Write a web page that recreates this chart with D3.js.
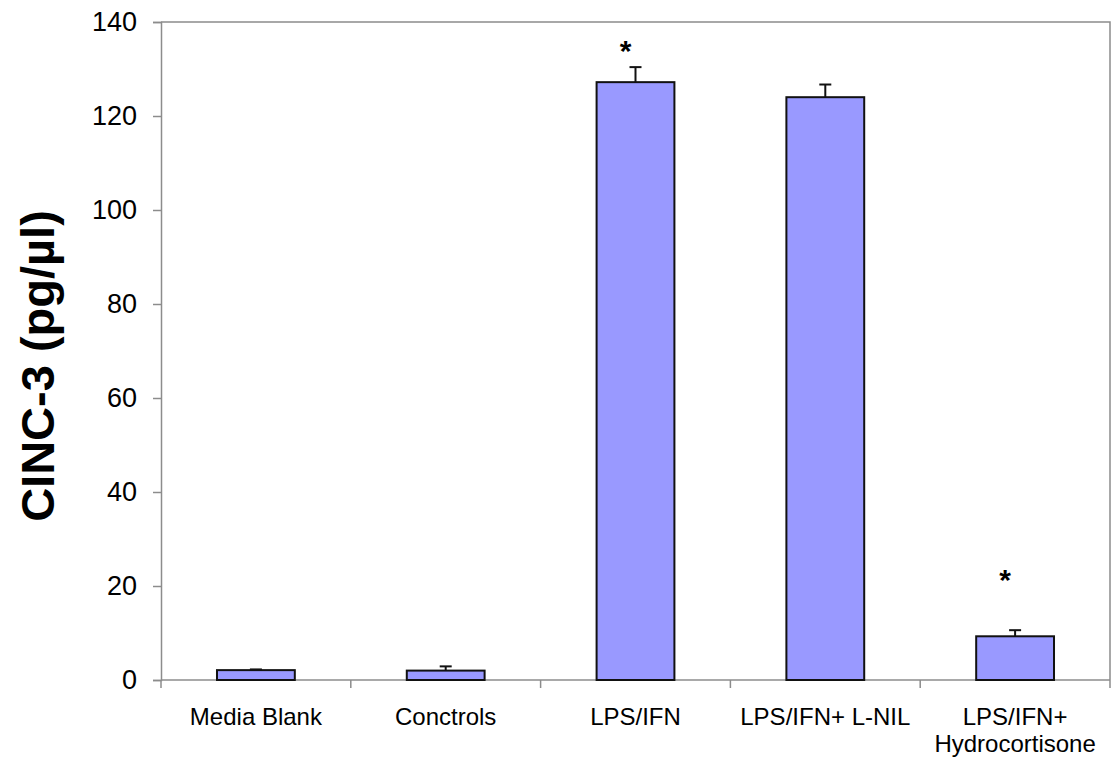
<!DOCTYPE html>
<html>
<head>
<meta charset="utf-8">
<script src="https://cdn.jsdelivr.net/npm/d3@7"></script>
<style>
  body { margin: 0; background: #fff; }
  svg { display: block; font-family: "Liberation Sans", Arial, sans-serif; }
</style>
</head>
<body>
<svg id="chart" width="1111" height="759"></svg>
<script>
// CINC-3 concentration by treatment group
const categories = ["Media Blank", "Conctrols", "LPS/IFN", "LPS/IFN+ L-NIL", "LPS/IFN+\nHydrocortisone"];
const means = [2.1, 2.0, 127.2, 124.0, 9.3];
const errors = [0.15, 0.9, 3.2, 2.7, 1.3];
// level (in pg/µl) of the significance asterisk, null where none
const starLevels = [null, null, 134.8, null, 22.3];
const yTicks = [0, 20, 40, 60, 80, 100, 120, 140];

const svg = d3.select("#chart");
const margin = { left: 161, right: 1, top: 22, bottom: 79 };
const W = 1111, H = 759;
const plotW = W - margin.left - margin.right;
const plotH = H - margin.top - margin.bottom;

const g = svg.append("g").attr("transform", `translate(${margin.left},${margin.top})`);

const x = d3.scaleBand().domain(categories).range([0, plotW]).paddingInner(0.59).paddingOuter(0.295);
const y = d3.scaleLinear().domain([0, 140]).range([plotH, 0]);
const xBounds = d3.scaleLinear().domain([0, categories.length]).range([0, plotW]);
const cx = d => x(d) + x.bandwidth() / 2;

const axisColor = "#8c8c8c";

// plot frame (top and right)
g.append("path")
  .attr("d", `M0,${y(140)}H${plotW}V${plotH}`)
  .attr("fill", "none").attr("stroke", axisColor).attr("stroke-width", 1.5);

// y axis
const yAxis = g.append("g").call(d3.axisLeft(y).tickValues(yTicks).tickSize(8).tickPadding(16));
yAxis.select(".domain").attr("stroke", axisColor).attr("stroke-width", 1.5);
yAxis.selectAll(".tick line").attr("stroke", axisColor).attr("stroke-width", 1.5);
yAxis.selectAll(".tick text").attr("font-size", 27).attr("fill", "#000")
  .attr("font-family", "'Liberation Sans', Arial, sans-serif");

// x axis baseline with ticks at category boundaries
g.append("line").attr("x1", 0).attr("x2", plotW).attr("y1", plotH).attr("y2", plotH)
  .attr("stroke", axisColor).attr("stroke-width", 1.5);
g.selectAll(".xtick").data(d3.range(categories.length + 1)).join("line")
  .attr("class", "xtick")
  .attr("x1", d => xBounds(d)).attr("x2", d => xBounds(d))
  .attr("y1", plotH).attr("y2", plotH + 8)
  .attr("stroke", axisColor).attr("stroke-width", 1.5);

// category labels
const labels = g.selectAll(".xlabel").data(categories).join("text")
  .attr("class", "xlabel")
  .attr("x", cx)
  .attr("y", plotH + 45)
  .attr("text-anchor", "middle")
  .attr("font-size", 24)
  .attr("fill", "#000");
labels.each(function(d) {
  const lines = d.split("\n");
  d3.select(this).selectAll("tspan").data(lines).join("tspan")
    .attr("x", cx(d))
    .attr("dy", (l, i) => i === 0 ? 0 : 27)
    .text(l => l);
});

// bars
g.selectAll(".bar").data(categories).join("rect")
  .attr("class", "bar")
  .attr("x", d => x(d))
  .attr("y", (d, i) => y(means[i]))
  .attr("width", x.bandwidth())
  .attr("height", (d, i) => y(0) - y(means[i]))
  .attr("fill", "#9999ff")
  .attr("stroke", "#111")
  .attr("stroke-width", 2);

// error bars (upper only)
const eb = g.selectAll(".err").data(categories).join("g").attr("class", "err");
eb.append("line")
  .attr("x1", cx).attr("x2", cx)
  .attr("y1", (d, i) => y(means[i])).attr("y2", (d, i) => y(means[i] + errors[i]))
  .attr("stroke", "#111").attr("stroke-width", 2);
eb.append("line")
  .attr("x1", d => cx(d) - 6).attr("x2", d => cx(d) + 6)
  .attr("y1", (d, i) => y(means[i] + errors[i])).attr("y2", (d, i) => y(means[i] + errors[i]))
  .attr("stroke", "#111").attr("stroke-width", 2);

// significance markers
g.selectAll(".star").data(categories.filter((d, i) => starLevels[i] !== null)).join("text")
  .attr("class", "star")
  .attr("x", d => cx(d) - 10)
  .attr("y", d => y(starLevels[categories.indexOf(d)]))
  .attr("dy", "0.5em")
  .attr("text-anchor", "middle")
  .attr("font-size", 30)
  .attr("font-weight", "bold")
  .attr("fill", "#000")
  .text("*");

// y axis title
svg.append("text")
  .attr("transform", `translate(54,366) rotate(-90)`)
  .attr("text-anchor", "middle")
  .attr("font-size", 47)
  .attr("font-weight", "bold")
  .attr("fill", "#000")
  .text("CINC-3 (pg/µl)");
</script>
</body>
</html>
